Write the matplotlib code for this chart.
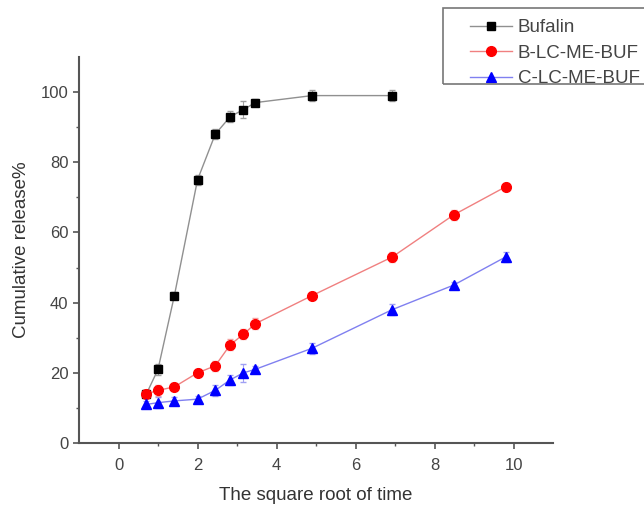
import numpy as np
import matplotlib.pyplot as plt
from matplotlib.patches import Rectangle

plt.rcParams['font.family'] = ['Liberation Sans', 'DejaVu Sans']

# square root of sampling time (h)
x_buf = [0.707, 1.0, 1.414, 2.0, 2.449, 2.828, 3.162, 3.464, 4.899, 6.928]
y_buf = [14, 21, 42, 75, 88, 93, 95, 97, 99, 99]
e_buf = [1.0, 1.5, 1.0, 1.5, 1.5, 1.5, 2.5, 1.0, 1.5, 1.5]

x_me = [0.707, 1.0, 1.414, 2.0, 2.449, 2.828, 3.162, 3.464, 4.899, 6.928, 8.485, 9.798]
y_b = [14, 15, 16, 20, 22, 28, 31, 34, 42, 53, 65, 73]
e_b = [1.0, 1.5, 1.0, 1.0, 1.5, 1.5, 1.5, 1.5, 1.0, 1.5, 1.5, 1.0]
y_c = [11, 11.5, 12, 12.5, 15, 18, 20, 21, 27, 38, 45, 53]
e_c = [1.0, 1.5, 1.0, 1.0, 1.5, 1.5, 2.5, 1.0, 1.5, 1.5, 1.0, 1.5]

fig = plt.figure(figsize=(6.44, 5.07), dpi=100)
ax = fig.add_axes([0.1227, 0.1262, 0.736, 0.7614])

c1 = ax.errorbar(x_buf, y_buf, yerr=e_buf, color='#909090', ecolor='#a0a0a0', lw=1.0,
                 marker='s', ms=6, mfc='black', mec='black', capsize=2.5, elinewidth=0.8)
c2 = ax.errorbar(x_me, y_b, yerr=e_b, color='#f08080', ecolor='#f4a0a0', lw=1.0,
                 marker='o', ms=7, mfc='red', mec='red', capsize=2.5, elinewidth=0.8)
c3 = ax.errorbar(x_me, y_c, yerr=e_c, color='#8080f0', ecolor='#a0a0f4', lw=1.0,
                 marker='^', ms=7, mfc='blue', mec='blue', capsize=2.5, elinewidth=0.8)

ax.set_xlim(-1, 11)
ax.set_ylim(0, 110)
ax.set_xticks([0, 2, 4, 6, 8, 10])
ax.set_xticks([1, 3, 5, 7, 9], minor=True)
ax.set_yticks([0, 20, 40, 60, 80, 100])
ax.set_yticks([10, 30, 50, 70, 90], minor=True)

for s in ['top', 'right']:
    ax.spines[s].set_visible(False)
for s in ['left', 'bottom']:
    ax.spines[s].set_color('#555555')
    ax.spines[s].set_linewidth(1.5)
ax.tick_params(which='both', direction='out', colors='#555555', labelcolor='#444444',
               labelsize=12)
ax.tick_params(which='major', length=4, width=1.2)
ax.tick_params(which='minor', length=2.5, width=1.0)
ax.tick_params(axis='x', which='major', pad=7)

ax.set_xlabel('The square root of time', fontsize=13.5, color='#333333', labelpad=10)
ax.set_ylabel('Cumulative release%', fontsize=13.5, color='#333333', labelpad=8)

# legend box drawn separately so it can run off the right edge like the original
fig.patches.append(Rectangle((443 / 644, 1 - 84 / 507), 0.4, 76 / 507,
                             transform=fig.transFigure, fill=False,
                             edgecolor='#777777', lw=1.2))
handles = [c1.lines[0], c2.lines[0], c3.lines[0]]
labels = ['Bufalin', 'B-LC-ME-BUF', 'C-LC-ME-BUF']
leg = ax.legend(handles, labels, loc='upper left', bbox_to_anchor=(470 / 644, 1 - 19 / 507),
                bbox_transform=fig.transFigure,
                fontsize=13.5, frameon=False,
                handlelength=2.25, handletextpad=0.3, borderpad=0, labelspacing=0.45,
                borderaxespad=0)
for t in leg.get_texts():
    t.set_color('#444444')

fig.savefig('out.png', dpi=100)
